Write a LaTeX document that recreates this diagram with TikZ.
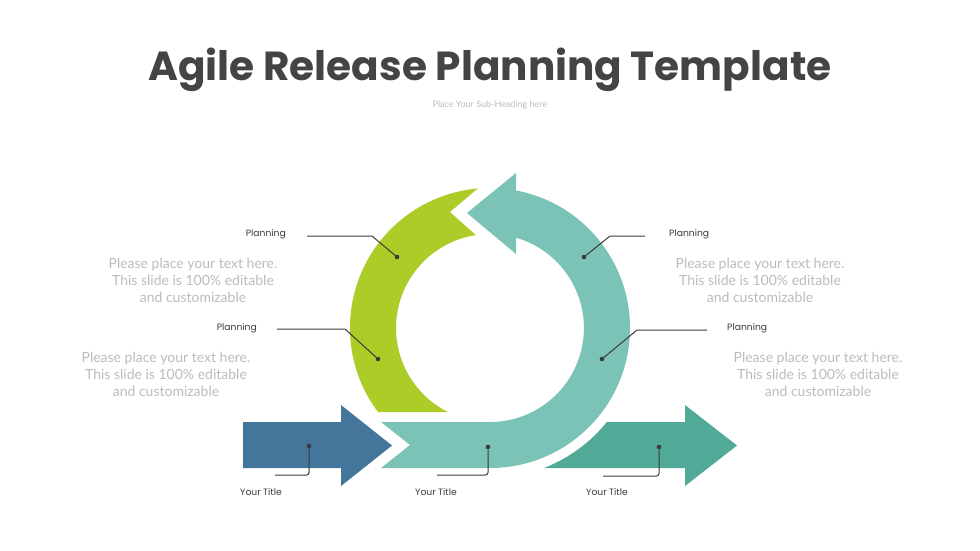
\documentclass[tikz,border=0pt]{standalone}
\usepackage{fontspec}
\newfontfamily\poppins{Poppins}
\newfontfamily\lato{Lato}
\definecolor{arrowblue}{HTML}{44759A}
\definecolor{ringgreen}{HTML}{ACCD27}
\definecolor{ringteal}{HTML}{7BC2B7}
\definecolor{darkteal}{HTML}{51A997}
\definecolor{titlegray}{HTML}{444444}
\definecolor{leadgray}{HTML}{3A3A3A}
\definecolor{blurbgray}{HTML}{BBBBBB}

\begin{document}
\begin{tikzpicture}[
  x=1pt, y=-1pt,
  every node/.style={inner sep=0pt},
  dot/.style={circle, fill=leadgray, minimum size=4.6pt, inner sep=0pt},
  leader/.style={draw=leadgray, line width=1pt},
  bottomleader/.style={leader, rounded corners=2.5pt},
  steplabel/.style={font=\poppins\fontsize{9.2}{11}\selectfont, text=leadgray},
  blurb/.style={font=\lato\fontsize{14}{17}\selectfont, text=blurbgray, align=center},
]
\useasboundingbox (0,0) rectangle (980,551);

% ---- heading ----
\node[font=\poppins\bfseries\fontsize{40.6}{44}\selectfont, text=titlegray] (title) at (490,70) {Agile Release Planning Template};
\node[font=\lato\fontsize{9}{10}\selectfont, text=blurbgray] (subtitle) at (490,105) {Place Your Sub-Heading here};

% ---- arrows and ring (centre of ring at (490,328)) ----
\coordinate (ring) at (490,328);
\fill[arrowblue] (243,422) -- (341,422) -- (341,405) -- (392,445.5) -- (341,486) -- (341,468) -- (243,468) -- cycle;
\fill[ringgreen] (378,412) arc[start angle=143.1, end angle=265, radius=140]
  -- (450,212) -- (475.8,235.1) arc[start angle=261.3, end angle=116.6, radius=94] -- cycle;
\fill[ringteal] (381,422) -- (410,445) -- (381,468) -- (490,468)
  arc[start angle=90, end angle=-79.3, radius=140] -- (516,173) -- (467,213) -- (516,254)
  -- (516,237.7) arc[start angle=-73.9, end angle=90, radius=94] -- cycle;
\fill[darkteal] (606.9,422) -- (685,422) -- (685,405) -- (737,445.5) -- (685,486) -- (685,468)
  -- (543.9,468) arc[start angle=68.9, end angle=38.8, radius=150] -- cycle;

% ---- callout dots ----
\node[dot] (gtop) at (397,257) {};
\node[dot] (glow) at (378,359) {};
\node[dot] (ttop) at (584,257) {};
\node[dot] (tlow) at (602,359) {};
\node[dot] (bblue) at (309,446) {};
\node[dot] (bteal) at (488,447) {};
\node[dot] (bdark) at (659,447) {};

% ---- leader bends and ends ----
\coordinate (gtopbend) at (372,236);  \coordinate (gtopend) at (307,236);
\coordinate (glowbend) at (345,329);  \coordinate (glowend) at (277,329);
\coordinate (ttopbend) at (610,236);  \coordinate (ttopend) at (645,236);
\coordinate (tlowbend) at (637,330);  \coordinate (tlowend) at (707,330);
\coordinate (bbluebend) at (309,475); \coordinate (bblueend) at (275,475);
\coordinate (btealbend) at (488,475); \coordinate (btealend) at (437,475);
\coordinate (bdarkbend) at (659,476); \coordinate (bdarkend) at (603,476);

\draw[leader] (gtop) -- (gtopbend) -- (gtopend);
\draw[leader] (glow) -- (glowbend) -- (glowend);
\draw[leader] (ttop) -- (ttopbend) -- (ttopend);
\draw[leader] (tlow) -- (tlowbend) -- (tlowend);
\draw[bottomleader] (bblue) -- (bbluebend) -- (bblueend);
\draw[bottomleader] (bteal) -- (btealbend) -- (btealend);
\draw[bottomleader] (bdark) -- (bdarkbend) -- (bdarkend);

% ---- labels ----
\node[steplabel, anchor=east] (gtoplabel) at (286,234) {Planning};
\node[steplabel, anchor=east] (glowlabel) at (257,328) {Planning};
\node[steplabel, anchor=west] (ttoplabel) at (669,234) {Planning};
\node[steplabel, anchor=west] (tlowlabel) at (727,328) {Planning};
\node[steplabel] (bbluelabel) at (261,492) {Your Title};
\node[steplabel] (btealabel) at (436,492) {Your Title};
\node[steplabel] (bdarklabel) at (607,492) {Your Title};

% ---- text blocks ----
\node[blurb] (gtopblurb) at (193,280) {Please place your text here.\\This slide is 100\% editable\\and customizable};
\node[blurb] (glowblurb) at (166,374) {Please place your text here.\\This slide is 100\% editable\\and customizable};
\node[blurb] (ttopblurb) at (760,280) {Please place your text here.\\This slide is 100\% editable\\and customizable};
\node[blurb] (tlowblurb) at (818,374) {Please place your text here.\\This slide is 100\% editable\\and customizable};

\end{tikzpicture}
\end{document}
